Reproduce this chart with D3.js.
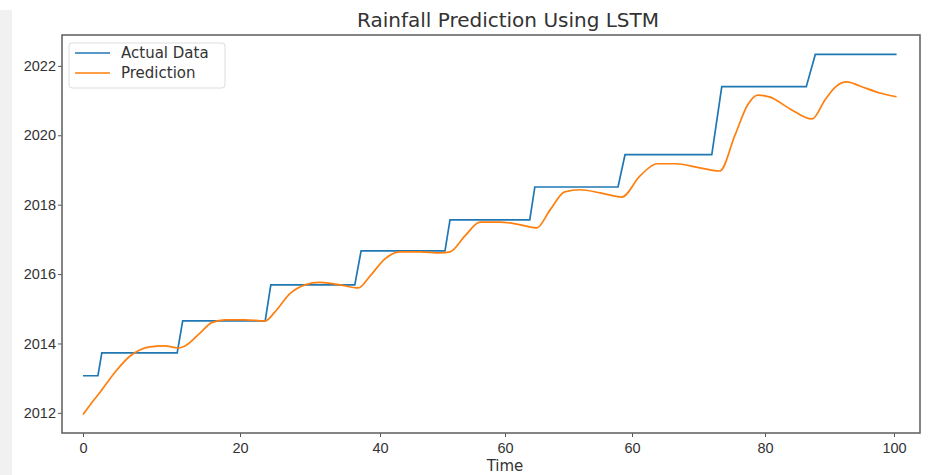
<!DOCTYPE html>
<html>
<head>
<script src="https://d3js.org/d3.v7.min.js"></script>
<style>
  body { margin: 0; background: #fff; }
  svg { font-family: "DejaVu Sans", sans-serif; }
  .tick text { fill: #333; }
</style>
</head>
<body>
<script>
// tick labels as printed on the reference (note the doubled "60")
var xTicks = [0, 20, 40, 60, 80, 100, 120];
var xTickLabels = ["0", "20", "40", "60", "60", "80", "100"];
var yTicks = [2012, 2014, 2016, 2018, 2020, 2022];

// actual data: step breakpoints (time, value)
var actualT = [0, 1.9, 2.4, 12.0, 12.7, 23.6, 24.4, 36.4, 37.3, 50.4, 51.2, 63.9, 64.7, 77.8, 78.9, 92.0, 93.5, 106.4, 107.8, 120.4];
var actualV = [2013.07, 2013.07, 2013.73, 2013.73, 2014.65, 2014.65, 2015.69, 2015.69, 2016.67, 2016.67,
               2017.56, 2017.56, 2018.51, 2018.51, 2019.44, 2019.44, 2021.40, 2021.40, 2022.33, 2022.33];

// prediction curve
var predT = [0, 0.9, 2.2, 4.1, 6.0, 7.3, 8.5, 10.4, 12.1, 13.0, 14.9, 16.4, 18.1, 20.7, 23.6, 25.0, 27.1, 29.3, 31.4, 34.3,
             36.9, 38.6, 40.8, 43.2, 46.4, 49.6, 51.2, 53.6, 56.0, 59.2, 62.4, 65.0, 67.1, 69.4, 71.8, 75.0, 78.4, 81.2,
             83.8, 86.5, 90.2, 93.2, 95.5, 97.4, 98.9, 100.8, 103.9, 107.3, 109.3, 110.9, 112.7, 114.7, 117.8, 120.4];
var predV = [2011.95, 2012.23, 2012.6, 2013.18, 2013.64, 2013.82, 2013.9, 2013.93, 2013.87, 2013.93, 2014.3, 2014.6, 2014.68, 2014.68, 2014.65, 2014.91, 2015.43, 2015.69, 2015.76, 2015.69,
             2015.6, 2015.95, 2016.44, 2016.64, 2016.64, 2016.61, 2016.64, 2017.1, 2017.5, 2017.5, 2017.42, 2017.33, 2017.85, 2018.37, 2018.43, 2018.34, 2018.22, 2018.83,
             2019.18, 2019.18, 2019.06, 2018.97, 2020.01, 2020.88, 2021.16, 2021.1, 2020.76, 2020.47, 2021.02, 2021.39, 2021.54, 2021.42, 2021.22, 2021.11];

var width = 931, height = 475;
var plotLeft = 62, plotRight = 920, plotTop = 35, plotBottom = 433;

var svg = d3.select("body").append("svg")
  .attr("width", width)
  .attr("height", height);

// faint grey strip on the left edge of the scan
svg.append("rect").attr("x", 0).attr("y", 10).attr("width", 12).attr("height", height - 10).attr("fill", "#f1f1f1");

// x axis in the picture is unevenly spaced, so map each tick to where it sits
var x = d3.scaleLinear().domain(xTicks).range([83, 240, 380, 505, 632, 765, 894]);
var y = d3.scaleLinear().domain([2011.42, 2022.89]).range([plotBottom, plotTop]);

var xAxis = svg.append("g")
  .attr("transform", "translate(0," + plotBottom + ")")
  .call(d3.axisBottom(x).tickValues(xTicks).tickFormat(function(d, i) { return xTickLabels[i]; }).tickSize(4).tickPadding(6));
xAxis.select(".domain").remove();
xAxis.selectAll("line").attr("stroke", "#555");
xAxis.selectAll("text").attr("font-size", "14.5px");

var yAxis = svg.append("g")
  .attr("transform", "translate(" + plotLeft + ",0)")
  .call(d3.axisLeft(y).tickValues(yTicks).tickFormat(d3.format("d")).tickSize(4).tickPadding(2));
yAxis.select(".domain").remove();
yAxis.selectAll("line").attr("stroke", "#555");
yAxis.selectAll("text").attr("font-size", "14.5px");

// lines
var actual = actualT.map(function(t, i) { return [t, actualV[i]]; });
var pred = predT.map(function(t, i) { return [t, predV[i]]; });

svg.append("path")
  .datum(actual)
  .attr("fill", "none")
  .attr("stroke", "#1f77b4")
  .attr("stroke-width", 1.7)
  .attr("d", d3.line().x(function(d) { return x(d[0]); }).y(function(d) { return y(d[1]); }));

svg.append("path")
  .datum(pred)
  .attr("fill", "none")
  .attr("stroke", "#ff7f0e")
  .attr("stroke-width", 1.7)
  .attr("d", d3.line().curve(d3.curveMonotoneX).x(function(d) { return x(d[0]); }).y(function(d) { return y(d[1]); }));

// frame
svg.append("rect")
  .attr("x", plotLeft).attr("y", plotTop)
  .attr("width", plotRight - plotLeft).attr("height", plotBottom - plotTop)
  .attr("fill", "none").attr("stroke", "#666").attr("stroke-width", 1.6);

// title and label
svg.append("text")
  .attr("x", 508).attr("y", 27)
  .attr("text-anchor", "middle")
  .attr("font-size", "20px")
  .attr("fill", "#333")
  .text("Rainfall Prediction Using LSTM");

svg.append("text")
  .attr("x", 505).attr("y", 471)
  .attr("text-anchor", "middle")
  .attr("font-size", "15px")
  .attr("fill", "#333")
  .text("Time");

// legend
var legend = svg.append("g");
legend.append("rect")
  .attr("x", 69).attr("y", 43).attr("width", 156).attr("height", 45)
  .attr("rx", 3)
  .attr("fill", "#fff").attr("fill-opacity", 0.8)
  .attr("stroke", "#ddd");
var names = ["Actual Data", "Prediction"];
var colors = ["#1f77b4", "#ff7f0e"];
names.forEach(function(n, i) {
  legend.append("line")
    .attr("x1", 75).attr("x2", 110)
    .attr("y1", 53 + i * 20).attr("y2", 53 + i * 20)
    .attr("stroke", colors[i]).attr("stroke-width", 1.7);
  legend.append("text")
    .attr("x", 121).attr("y", 58 + i * 20)
    .attr("font-size", "15px")
    .attr("fill", "#333")
    .text(n);
});
</script>
</body>
</html>
